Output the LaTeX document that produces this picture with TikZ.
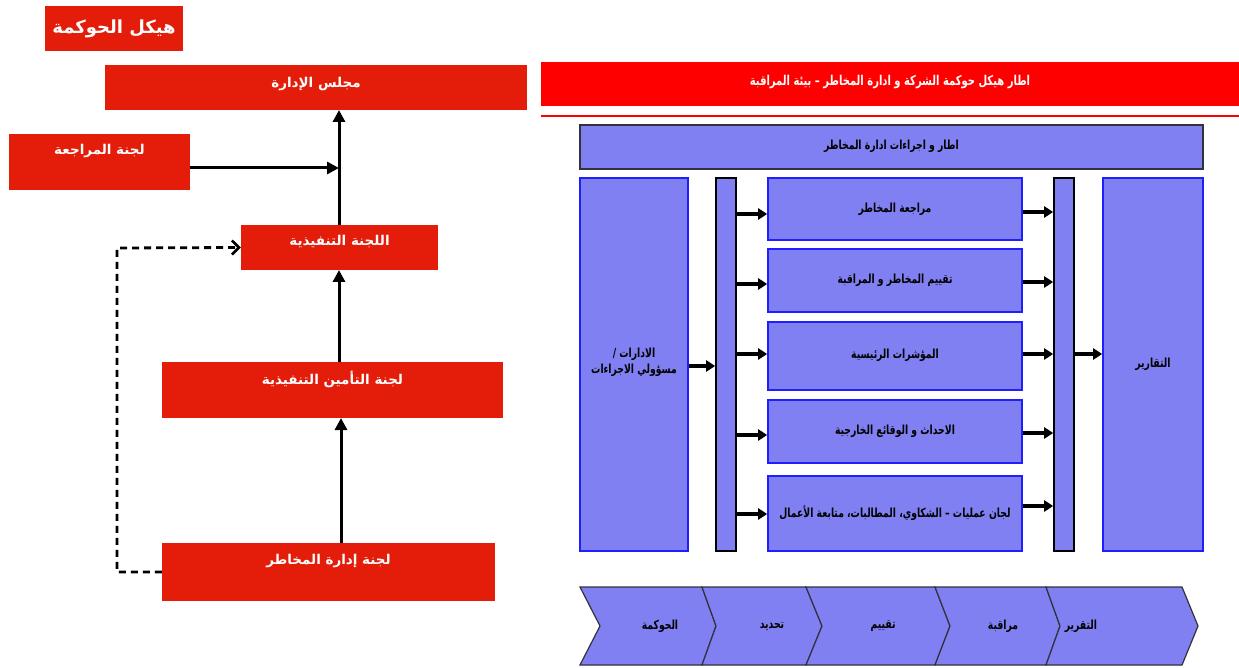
\documentclass[tikz,border=0pt]{standalone}
\usepackage{fontspec}
\usetikzlibrary{arrows.meta}
\TeXXeTstate=1
\newfontfamily\arfont[Script=Arabic]{DejaVu Sans}
\newfontfamily\arcond[Script=Arabic,FakeStretch=0.74]{DejaVu Sans}
\newcommand\rtl[1]{\beginR #1\endR}
\definecolor{lred}{RGB}{228,28,10}
\definecolor{hred}{RGB}{255,0,0}
\definecolor{pblue}{RGB}{128,128,242}
\definecolor{bblue}{RGB}{30,30,255}
\definecolor{dgray}{RGB}{50,50,60}
\tikzset{
  lbox/.style={fill=lred,draw=none,inner sep=0pt,text=white},
  ltxt/.style={text=white,font=\arfont\bfseries\fontsize{13.5}{15}\selectfont,inner sep=0pt},
  rbox/.style={fill=pblue,draw=bblue,line width=1.6pt,inner sep=0pt},
  rbar/.style={fill=pblue,draw=black,line width=1.6pt,inner sep=0pt},
  rtxt/.style={text=black,font=\arcond\bfseries\fontsize{12.5}{15}\selectfont,inner sep=0pt,align=center},
  larrow/.style={line width=3pt,-{Triangle[length=12pt,width=12pt]}},
  rarrow/.style={line width=3.4pt,-{Triangle[length=9pt,width=11pt]}},
  chev/.style={fill=pblue,draw=dgray,line width=1.2pt},
}
\begin{document}
\begin{tikzpicture}[x=1pt,y=-1pt]
\useasboundingbox (0,0) rectangle (1239,668);
% ---------- left panel ----------
\node[lbox,minimum width=138pt,minimum height=45pt] (title) at (114,28.5)
  {\arfont\bfseries\fontsize{18}{20}\selectfont\rtl{هيكل الحوكمة}};
\node[lbox,minimum width=422pt,minimum height=45pt] (board) at (316,87.5) {};
\node[ltxt] (boardt) at (316,84) {\rtl{مجلس الإدارة}};
\node[lbox,minimum width=181pt,minimum height=56pt] (audit) at (99.5,162) {};
\node[ltxt] (auditt) at (99.5,151) {\rtl{لجنة المراجعة}};
\node[lbox,minimum width=197pt,minimum height=45pt] (exec) at (339.5,247.5) {};
\node[ltxt] (exect) at (339.5,242) {\rtl{اللجنة التنفيذية}};
\node[lbox,minimum width=341pt,minimum height=56pt] (ins) at (332.5,390) {};
\node[ltxt] (inst) at (332.5,379) {\rtl{لجنة التأمين التنفيذية}};
\node[lbox,minimum width=333pt,minimum height=58pt] (risk) at (328.5,572) {};
\node[ltxt] (riskt) at (328.5,561) {\rtl{لجنة إدارة المخاطر}};
\coordinate (jn) at (339,168);
\draw[larrow] (339,225) -- (339,110);
\draw[larrow] (audit.east |- jn) -- (jn);
\draw[larrow] (339,362) -- (339,270);
\draw[larrow] (341,543) -- (341,418);
\draw[line width=2.8pt,dash pattern=on 7pt off 5pt,-{Straight Barb[length=7pt,width=14pt,line width=2.6pt]}]
  (risk.west) -- (117,572) -- (117,248) -- (exec.west);
% ---------- right panel ----------
\node[fill=hred,draw=none,minimum width=698pt,minimum height=44pt,inner sep=0pt] (head) at (890,84) {};
\node[text=white,font=\arcond\bfseries\fontsize{13.5}{15}\selectfont,inner sep=0pt] (headt) at (890,82)
  {\rtl{اطار هيكل حوكمة الشركة و ادارة المخاطر – بيئة المراقبة}};
\draw[hred,line width=2pt] (head.south west |- 0,116) coordinate (rl) -- (head.south east |- 0,116) coordinate (rr);
\node[rbox,draw=dgray,line width=2pt,minimum width=623pt,minimum height=44pt] (frame) at (891.5,147)
  {}; 
\node[rtxt] (framet) at (891.5,146) {\rtl{اطار و اجراءات ادارة المخاطر}};
\node[rbox,minimum width=108pt,minimum height=373pt] (units) at (634,364.5) {};
\node[rtxt,font=\arcond\bfseries\fontsize{12.5}{16}\selectfont] (unitst) at (634,362) {\rtl{الادارات /}\\\rtl{مسؤولي الاجراءات}};
\node[rbar,minimum width=20pt,minimum height=373pt] (bara) at (726,364.5) {};
\node[rbox,minimum width=254pt,minimum height=62pt] (ma) at (895,209) {};
\node[rtxt] at (895,209) (mat) {\rtl{مراجعة المخاطر}};
\node[rbox,minimum width=254pt,minimum height=63pt] (mb) at (895,280.5) {};
\node[rtxt] at (895,280) (mbt) {\rtl{تقييم المخاطر و المراقبة}};
\node[rbox,minimum width=254pt,minimum height=68pt] (mc) at (895,356) {};
\node[rtxt] at (895,355) (mct) {\rtl{المؤشرات الرئيسية}};
\node[rbox,minimum width=254pt,minimum height=63pt] (md) at (895,431.5) {};
\node[rtxt] at (895,431) (mdt) {\rtl{الاحداث و الوقائع الخارجية}};
\node[rbox,minimum width=254pt,minimum height=75pt] (me) at (895,513.5) {};
\node[rtxt] at (895,513) (met) {\rtl{لجان عمليات – الشكاوي، المطالبات، متابعة الأعمال}};
\node[rbar,minimum width=20pt,minimum height=373pt] (barb) at (1064,364.5) {};
\node[rbox,minimum width=100pt,minimum height=373pt] (rep) at (1153,364.5) {};
\node[rtxt] (rept) at (1153,364) {\rtl{التقارير}};
% arrows
\draw[rarrow] (units.east |- 0,366) coordinate (ua) -- (bara.west |- ua);
\foreach \b/\y in {ma/214,mb/284,mc/354,md/435,me/514}{
  \draw[rarrow] (bara.east |- 0,\y) -- (\b.west |- 0,\y);
}
\foreach \b/\y in {ma/212,mb/282,mc/354,md/433,me/506}{
  \draw[rarrow] (\b.east |- 0,\y) -- (barb.west |- 0,\y);
}
\draw[rarrow] (barb.east |- 0,354) -- (rep.west |- 0,354);
% chevrons
\draw[chev] (580,587) -- (702,587) -- (716,626) -- (702,665) -- (580,665) -- (600,626) -- cycle;
\draw[chev] (702,587) -- (806,587) -- (822,626) -- (806,665) -- (702,665) -- (716,626) -- cycle;
\draw[chev] (806,587) -- (935,587) -- (950,626) -- (935,665) -- (806,665) -- (822,626) -- cycle;
\draw[chev] (935,587) -- (1046,587) -- (1060,626) -- (1046,665) -- (935,665) -- (950,626) -- cycle;
\draw[chev] (1046,587) -- (1182,587) -- (1198,626) -- (1182,665) -- (1046,665) -- (1060,626) -- cycle;
\node[rtxt] (c1) at (660,626) {\rtl{الحوكمة}};
\node[rtxt] (c2) at (772,626) {\rtl{تحديد}};
\node[rtxt] (c3) at (883,626) {\rtl{تقييم}};
\node[rtxt] (c4) at (1003,626) {\rtl{مراقبة}};
\node[rtxt] (c5) at (1081,626) {\rtl{التقرير}};
\end{tikzpicture}
\end{document}
